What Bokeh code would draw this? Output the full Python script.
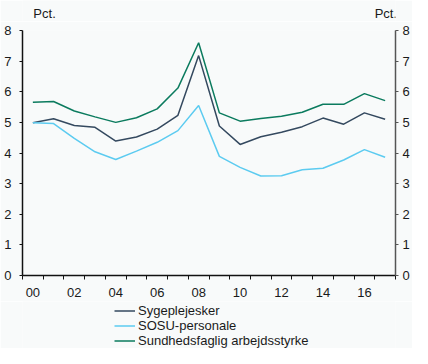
from bokeh.plotting import figure
from bokeh.layouts import column
from bokeh.models import (LinearAxis, FixedTicker, Range1d, Legend, LegendItem)
from bokeh.core.properties import value
from bokeh.embed import file_html
from bokeh.resources import INLINE

years = ["00", "01", "02", "03", "04", "05", "06", "07", "08", "09",
         "10", "11", "12", "13", "14", "15", "16", "17"]
sygeplejesker = [4.99, 5.12, 4.90, 4.84, 4.39, 4.52, 4.78, 5.23, 7.18, 4.88,
                 4.28, 4.53, 4.68, 4.86, 5.14, 4.94, 5.31, 5.10]
sosu = [4.99, 4.96, 4.48, 4.04, 3.79, 4.06, 4.35, 4.73, 5.55, 3.89,
        3.53, 3.25, 3.26, 3.45, 3.50, 3.77, 4.11, 3.86]
sundhed = [5.66, 5.68, 5.37, 5.18, 5.00, 5.15, 5.44, 6.12, 7.60, 5.31,
           5.04, 5.13, 5.20, 5.33, 5.59, 5.59, 5.94, 5.71]
series_names = ["Sygeplejesker", "SOSU-personale", "Sundhedsfaglig arbejdsstyrke"]
series_colors = ["#34495f", "#5ccbf0", "#0b7b5e"]
series_values = [sygeplejesker, sosu, sundhed]
y_ticks = [0, 1, 2, 3, 4, 5, 6, 7, 8]
unit_labels = ["Pct.", "Pct."]

FONT = "Liberation Sans"
BG = "#f8fafa"
TXT = "#1a1a1a"
W = 412
H_HEAD, H_MAIN, H_LEG = 21, 280, 47


def bare(h, xr=(0, 1), yr=(0, 1)):
    f = figure(width=W, height=h, output_backend="svg", toolbar_location=None,
               x_range=Range1d(*xr), y_range=Range1d(*yr),
               x_axis_location=None, y_axis_location=None,
               min_border=0, min_border_left=0, min_border_right=0,
               min_border_top=0, min_border_bottom=0)
    f.background_fill_color = BG
    f.border_fill_color = BG
    f.outline_line_color = None
    f.grid.visible = False
    return f


# ---- header with unit labels (pixel-scaled range so the labels sit over each axis)
head = bare(H_HEAD, xr=(0, W), yr=(H_HEAD, 0))
head.text(x=[12, 389], y=[13, 13], text=unit_labels,
          text_font=value(FONT), text_font_size="13px", text_color=TXT,
          text_baseline="middle", text_align="left")

# ---- main chart
xs = list(range(len(years)))
p = figure(width=W, height=H_MAIN, output_backend="svg", toolbar_location=None,
           x_range=Range1d(-0.5, len(years) - 0.5), y_range=Range1d(y_ticks[0], y_ticks[-1]),
           y_axis_location=None, x_axis_location=None,
           min_border_left=22, min_border_top=9, min_border_right=0, min_border_bottom=26)
p.background_fill_color = BG
p.border_fill_color = BG
p.outline_line_color = None
p.grid.visible = False

xaxis = LinearAxis(ticker=FixedTicker(ticks=xs[::2], minor_ticks=[i - 0.5 for i in range(len(years) + 1)]))
xaxis.major_label_overrides = {i: years[i] for i in xs}
xaxis.major_tick_out = 0
xaxis.major_tick_in = 0
xaxis.minor_tick_out = 4
xaxis.minor_tick_in = 0
xaxis.minor_tick_line_color = "#111111"
xaxis.axis_line_color = "#111111"
xaxis.axis_line_width = 1.5
xaxis.major_label_standoff = 8
xaxis.major_label_text_font = FONT
xaxis.major_label_text_font_size = "13px"
xaxis.major_label_text_color = TXT
p.add_layout(xaxis, "below")

for side, col in (("left", "#111111"), ("right", "#555555")):
    ax = LinearAxis(ticker=FixedTicker(ticks=y_ticks, minor_ticks=[]))
    ax.major_tick_out = 3
    ax.major_tick_in = 0
    ax.minor_tick_out = 0
    ax.axis_line_color = col
    ax.axis_line_width = 1.5
    ax.major_tick_line_color = col
    ax.major_label_standoff = 8 if side == "left" else 4
    ax.major_label_text_font = FONT
    ax.major_label_text_font_size = "13px"
    ax.major_label_text_color = TXT
    p.add_layout(ax, side)

for vals, c in zip(series_values, series_colors):
    p.line(xs, vals, line_color=c, line_width=1.5)

# ---- legend strip (its renderers stay hidden; only the legend is shown)
leg = bare(H_LEG)
items = []
for name, vals, c in zip(series_names, series_values, series_colors):
    r = leg.line(xs, vals, line_color=c, line_width=1.5, visible=False)
    items.append(LegendItem(label=name, renderers=[r]))
legend = Legend(items=items, location=(92, 0), orientation="vertical",
                label_text_font=FONT, label_text_font_size="13px", label_text_color=TXT,
                glyph_width=21, glyph_height=13, label_height=13, label_standoff=3,
                spacing=0, padding=0, margin=0, click_policy="none",
                border_line_color=None, background_fill_alpha=0)
leg.add_layout(legend, "center")

layout = column(head, p, leg, spacing=0)
open("out.html", "w").write(file_html(layout, INLINE))
